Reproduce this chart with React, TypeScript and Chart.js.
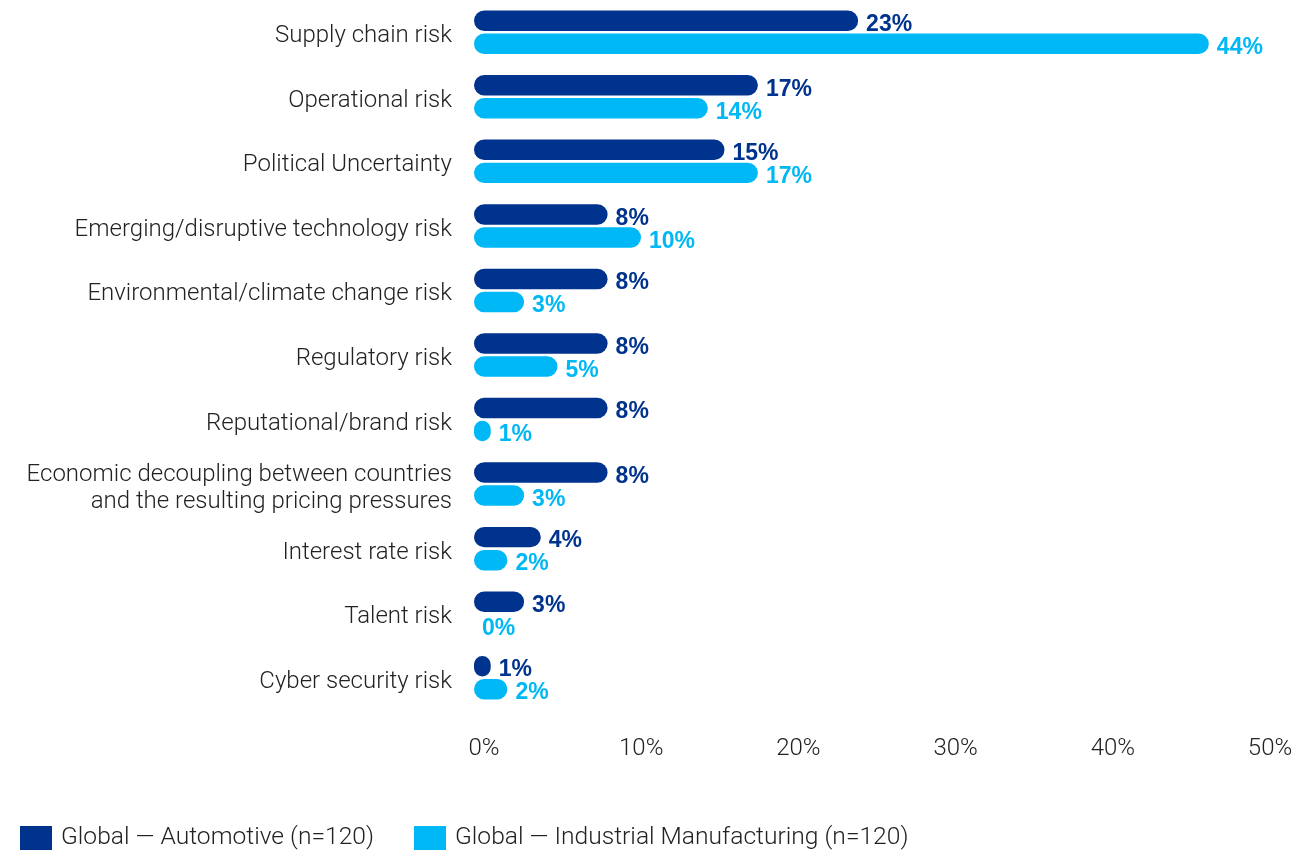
import React, { useEffect, useRef } from "react";
import { Chart, registerables } from "chart.js";

Chart.register(...registerables);

const categories: (string | string[])[] = [
  "Supply chain risk",
  "Operational risk",
  "Political Uncertainty",
  "Emerging/disruptive technology risk",
  "Environmental/climate change risk",
  "Regulatory risk",
  "Reputational/brand risk",
  ["Economic decoupling between countries", "and the resulting pricing pressures"],
  "Interest rate risk",
  "Talent risk",
  "Cyber security risk",
];
const automotive = [23, 17, 15, 8, 8, 8, 8, 8, 4, 3, 1];
const industrial = [44, 14, 17, 10, 3, 5, 1, 3, 2, 0, 2];
const tickValues = [0, 10, 20, 30, 40, 50];
const seriesNames = ["Global — Automotive (n=120)", "Global — Industrial Manufacturing (n=120)"];
const seriesColors = ["#00338D", "#00B8F5"];

const TEXT_FONT = "Roboto, 'Liberation Sans', Arial, sans-serif";
const TEXT_COLOR = "#222222";

const valueLabelPlugin = {
  id: "valueLabels",
  afterDatasetsDraw(chart: any) {
    const ctx = chart.ctx;
    ctx.save();
    ctx.font = "bold 23px 'Liberation Sans', Arial, sans-serif";
    ctx.textAlign = "left";
    ctx.textBaseline = "alphabetic";
    chart.data.datasets.forEach((ds: any, di: number) => {
      const meta = chart.getDatasetMeta(di);
      ctx.fillStyle = ds.backgroundColor;
      meta.data.forEach((el: any, i: number) => {
        const p = el.getProps(["x", "y", "height"], true);
        ctx.fillText(`${ds.data[i]}%`, p.x + 8, p.y + p.height / 2);
      });
    });
    ctx.restore();
  },
};

const legendPlugin = {
  id: "customLegend",
  afterDraw(chart: any) {
    const ctx = chart.ctx;
    ctx.save();
    ctx.font = `300 24.6px ${TEXT_FONT}`;
    ctx.textBaseline = "middle";
    ctx.textAlign = "left";
    let x = 20;
    const boxTop = 826;
    chart.data.datasets.forEach((ds: any) => {
      ctx.fillStyle = ds.backgroundColor;
      ctx.fillRect(x, boxTop, 32, 32);
      ctx.fillStyle = TEXT_COLOR;
      const tx = x + 41;
      ctx.fillText(ds.label, tx, 838);
      x = tx + ctx.measureText(ds.label).width + 40;
    });
    ctx.restore();
  },
};

export default function App() {
  const canvasRef = useRef<HTMLCanvasElement | null>(null);

  useEffect(() => {
    if (!canvasRef.current) return;
    const chart = new Chart(canvasRef.current, {
      type: "bar",
      data: {
        labels: categories as any,
        datasets: [
          {
            label: seriesNames[0],
            data: automotive,
            backgroundColor: seriesColors[0],
            borderRadius: 12,
            borderSkipped: false,
            barPercentage: 0.89,
            categoryPercentage: 0.713,
          },
          {
            label: seriesNames[1],
            data: industrial,
            backgroundColor: seriesColors[1],
            borderRadius: 12,
            borderSkipped: false,
            barPercentage: 0.89,
            categoryPercentage: 0.713,
          },
        ],
      },
      options: {
        indexAxis: "y",
        responsive: false,
        animation: false,
        layout: { padding: { left: 0, right: 22, top: 0, bottom: 80 } },
        plugins: {
          legend: { display: false },
          tooltip: { enabled: false },
        },
        scales: {
          x: {
            type: "linear",
            display: false,
            min: 0,
            max: 48.86,
          },
          x2: {
            type: "linear",
            position: "bottom",
            min: -0.636,
            max: 51.27,
            grid: { display: false, drawTicks: false },
            border: { display: false },
            afterBuildTicks: (axis: any) => {
              axis.ticks = tickValues.map((v) => ({ value: v }));
            },
            afterFit: (axis: any) => {
              axis.height = 60;
              axis.paddingLeft = 0;
              axis.paddingRight = 0;
            },
            ticks: {
              padding: 25,
              color: TEXT_COLOR,
              font: { family: TEXT_FONT, size: 24, weight: "300" },
              callback: (v: any) => `${v}%`,
              maxRotation: 0,
              autoSkip: false,
            },
          },
          y: {
            type: "category",
            grid: { display: false, drawTicks: false },
            border: { display: false },
            afterFit: (axis: any) => {
              axis.width = 474;
              axis.paddingTop = 0;
              axis.paddingBottom = 0;
            },
            ticks: {
              padding: 22,
              labelOffset: 4,
              color: TEXT_COLOR,
              font: { family: TEXT_FONT, size: 24, weight: "300", lineHeight: 1.13 },
              autoSkip: false,
            },
          },
        },
      } as any,
      plugins: [valueLabelPlugin, legendPlugin],
    });
    return () => chart.destroy();
  }, []);

  return (
    <div style={{ position: "absolute", left: 0, top: 0, width: 1312, height: 850, background: "#fff" }}>
      <canvas ref={canvasRef} width={1312} height={850} style={{ display: "block" }} />
    </div>
  );
}
